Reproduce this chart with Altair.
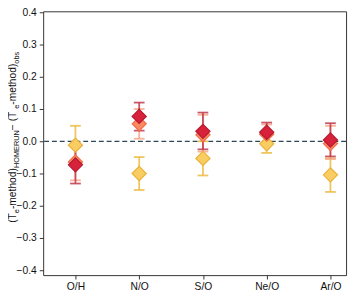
import altair as alt
import pandas as pd

categories = ["O/H", "N/O", "S/O", "Ne/O", "Ar/O"]
positions = [0, 1, 2, 3, 4]

# series: red (dark), orange, yellow
red_val = [-0.073, 0.077, 0.031, 0.028, 0.004]
red_lo = [-0.131, 0.033, -0.025, -0.002, -0.047]
red_hi = [-0.015, 0.120, 0.089, 0.058, 0.056]

orange_val = [-0.064, 0.054, 0.020, 0.022, -0.007]
orange_lo = [-0.121, 0.008, -0.032, -0.005, -0.055]
orange_hi = [-0.007, 0.100, 0.082, 0.052, 0.048]

yellow_val = [-0.012, -0.100, -0.053, -0.008, -0.104]
yellow_lo = [-0.072, -0.151, -0.106, -0.036, -0.157]
yellow_hi = [0.048, -0.049, 0.000, 0.020, -0.053]

y_ticks = [-0.4, -0.3, -0.2, -0.1, 0.0, 0.1, 0.2, 0.3, 0.4]

FONT = "Liberation Sans"
XDOM = [-0.506, 4.245]
YDOM = [-0.415, 0.403]

def frame(vals, lo, hi):
    return pd.DataFrame({"pos": positions, "cat": categories, "v": vals, "lo": lo, "hi": hi})

series = [
    ("yellow", frame(yellow_val, yellow_lo, yellow_hi), "#f9cd62", "#e8b33a", "#ebbb42"),
    ("orange", frame(orange_val, orange_lo, orange_hi), "#fa8a62", "#f06c48", "#f7a488"),
    ("red", frame(red_val, red_lo, red_hi), "#d8213b", "#b51a30", "#c03a4c"),
]

label_expr = "[" + ",".join('"%s"' % c for c in categories) + "][datum.value]"

xenc = alt.X("pos:Q", scale=alt.Scale(domain=XDOM, nice=False, zero=False),
             axis=alt.Axis(values=positions, labelExpr=label_expr, title=None, grid=False,
                           domain=False, tickSize=4, tickColor="#333", labelFont=FONT,
                           labelFontSize=10.5, labelColor="#111", labelPadding=3))
yscale = alt.Scale(domain=YDOM, nice=False, zero=False)
yaxis = alt.Axis(values=y_ticks, format=".1f", title=None, grid=False, domain=False,
                 tickSize=4, tickColor="#333", labelFont=FONT, labelFontSize=10.5,
                 labelColor="#111", labelPadding=3, labelOverlap=False, labelFlush=False)

def Y(field):
    return alt.Y(field, scale=yscale, axis=yaxis)

layers = []
zero = pd.DataFrame({"z": [0.0]})
layers.append(alt.Chart(zero).mark_rule(color="#2e4756", strokeDash=[5, 3], strokeWidth=1.3)
              .encode(y=Y("z:Q")))

for name, df, fill, edge, barc in series:
    base = alt.Chart(df)
    layers.append(base.mark_rule(color=barc, strokeWidth=1.8, opacity=0.85)
                  .encode(x=xenc, y=Y("lo:Q"), y2="hi:Q"))
    layers.append(base.mark_tick(color=barc, orient="horizontal", size=11, thickness=1.8, opacity=0.85)
                  .encode(x=xenc, y=Y("lo:Q")))
    layers.append(base.mark_tick(color=barc, orient="horizontal", size=11, thickness=1.8, opacity=0.85)
                  .encode(x=xenc, y=Y("hi:Q")))

for name, df, fill, edge, barc in series:
    layers.append(alt.Chart(df).mark_point(shape="diamond", filled=True, size=210, fill=fill,
                                           stroke=edge, strokeWidth=1.2, opacity=1)
                  .encode(x=xenc, y=Y("v:Q")))

# y-axis title built from pieces (main text + subscripts)
W = {'(': 333, 'T': 611, 'e': 556, '-': 333, 'm': 833, 't': 278, 'h': 556, 'o': 556,
     'd': 556, ')': 333, 'H': 722, 'O': 778, 'M': 833, 'E': 667, 'R': 722, 'U': 722,
     'N': 722, ' ': 278, '\u2212': 584, 'b': 556, 's': 500}
MAIN, SUB = 10.5, 7.5
pieces = [("(T", MAIN), ("e", SUB), ("-method)", MAIN), ("HOMERUN", SUB),
          (" \u2212 (T", MAIN), ("e", SUB), ("-method)", MAIN), ("obs", SUB)]
widths = [sum(W[c] for c in t) / 1000 * s for t, s in pieces]
total = sum(widths)
center = 129
ycur = center + total / 2
for (t, s), w in zip(pieces, widths):
    xb = -27.5 if s == MAIN else -25.0
    layers.append(alt.Chart(pd.DataFrame({"t": [t]})).mark_text(
        angle=270, align="left", baseline="alphabetic", font=FONT, fontSize=s, color="#111")
        .encode(text="t:N", x=alt.value(xb), y=alt.value(ycur)))
    ycur -= w

chart = alt.layer(*layers).properties(
    width=310, height=270,
    autosize=alt.AutoSizeParams(type="none"),
    padding={"left": 36, "top": 0, "right": 3, "bottom": 19},
).configure_view(stroke="#333", strokeWidth=1)

chart.save("out.html", embed_options={"renderer": "svg", "actions": False})
